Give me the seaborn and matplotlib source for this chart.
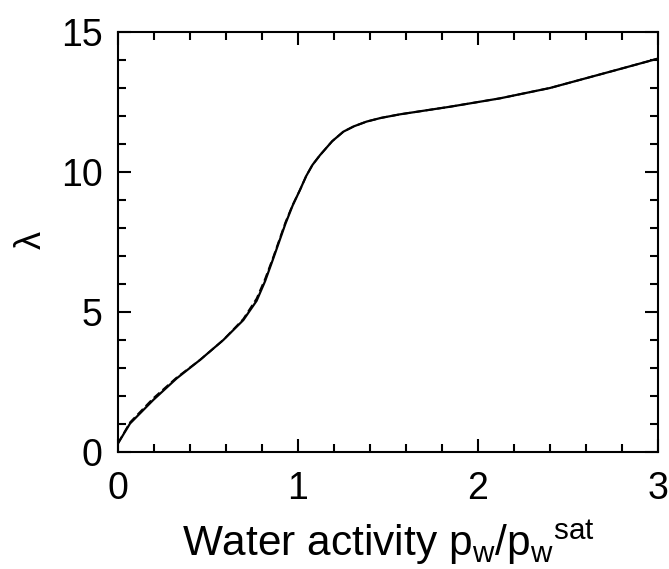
import matplotlib
matplotlib.use("Agg")
import matplotlib.pyplot as plt
import seaborn as sns
import pandas as pd
from matplotlib.ticker import MultipleLocator

# Data
activity = [0.0, 0.067, 0.196, 0.326, 0.456, 0.585, 0.696, 0.77, 0.817, 0.863,
            0.93, 0.97, 1.011, 1.045, 1.08, 1.122, 1.19, 1.252, 1.31, 1.381,
            1.46, 1.567, 1.844, 2.122, 2.4, 2.79, 3.0]
lambda_solid = [0.31, 1.02, 1.86, 2.63, 3.29, 4.0, 4.71, 5.4, 6.1, 6.92,
                8.15, 8.8, 9.36, 9.85, 10.25, 10.6, 11.1, 11.44, 11.63, 11.8,
                11.93, 12.06, 12.33, 12.63, 13.0, 13.68, 14.05]
lambda_dashed = [0.31, 1.06, 1.92, 2.66, 3.29, 4.0, 4.75, 5.48, 6.18, 6.97,
                 8.2, 8.82, 9.36, 9.85, 10.25, 10.6, 11.1, 11.44, 11.63, 11.8,
                 11.93, 12.06, 12.33, 12.63, 13.0, 13.68, 14.05]

df = pd.concat([
    pd.DataFrame({"a": activity, "lam": lambda_solid, "s": "solid"}),
    pd.DataFrame({"a": activity, "lam": lambda_dashed, "s": "dashed"}),
])

sns.set_theme(style="white")
plt.rcParams['font.family'] = ['Liberation Sans', 'DejaVu Sans']
plt.rcParams['mathtext.fontset'] = 'custom'
plt.rcParams['mathtext.rm'] = 'Liberation Sans'
for k in ['text.color', 'axes.labelcolor', 'xtick.color', 'ytick.color']:
    plt.rcParams[k] = 'black'

fig = plt.figure(figsize=(6.69, 5.69), dpi=100)
ax = fig.add_axes([0.1764, 0.2056, 0.8072, 0.7382])

sns.lineplot(data=df[df.s == "solid"], x="a", y="lam", ax=ax, color="black",
             linewidth=1.6, estimator=None, sort=False)
sns.lineplot(data=df[df.s == "dashed"], x="a", y="lam", ax=ax, color="black",
             linewidth=1.4, linestyle=(0, (4, 2)), estimator=None, sort=False)

ax.set_xlim(0, 3)
ax.set_ylim(0, 15)
ax.xaxis.set_major_locator(MultipleLocator(1))
ax.xaxis.set_minor_locator(MultipleLocator(0.2))
ax.yaxis.set_major_locator(MultipleLocator(5))
ax.yaxis.set_minor_locator(MultipleLocator(1))
ax.tick_params(which="both", direction="in", top=True, right=True,
               bottom=True, left=True, color="black", width=1.5)
ax.tick_params(which="major", length=9.5, labelsize=27)
ax.tick_params(axis="x", which="major", pad=14)
ax.tick_params(axis="y", which="major", pad=11)
ax.tick_params(which="minor", length=5.8)
for sp in ax.spines.values():
    sp.set_color("black")
    sp.set_linewidth(1.5)

ax.set_xlabel(r"Water activity p$_\mathregular{w}$/p$_\mathregular{w}$$^\mathregular{sat}$",
              fontsize=30.5, labelpad=8)
ax.set_ylabel("λ", fontsize=26)
ax.yaxis.set_label_coords(-0.128, 0.505)

fig.savefig("out.png", dpi=100, facecolor="white")
